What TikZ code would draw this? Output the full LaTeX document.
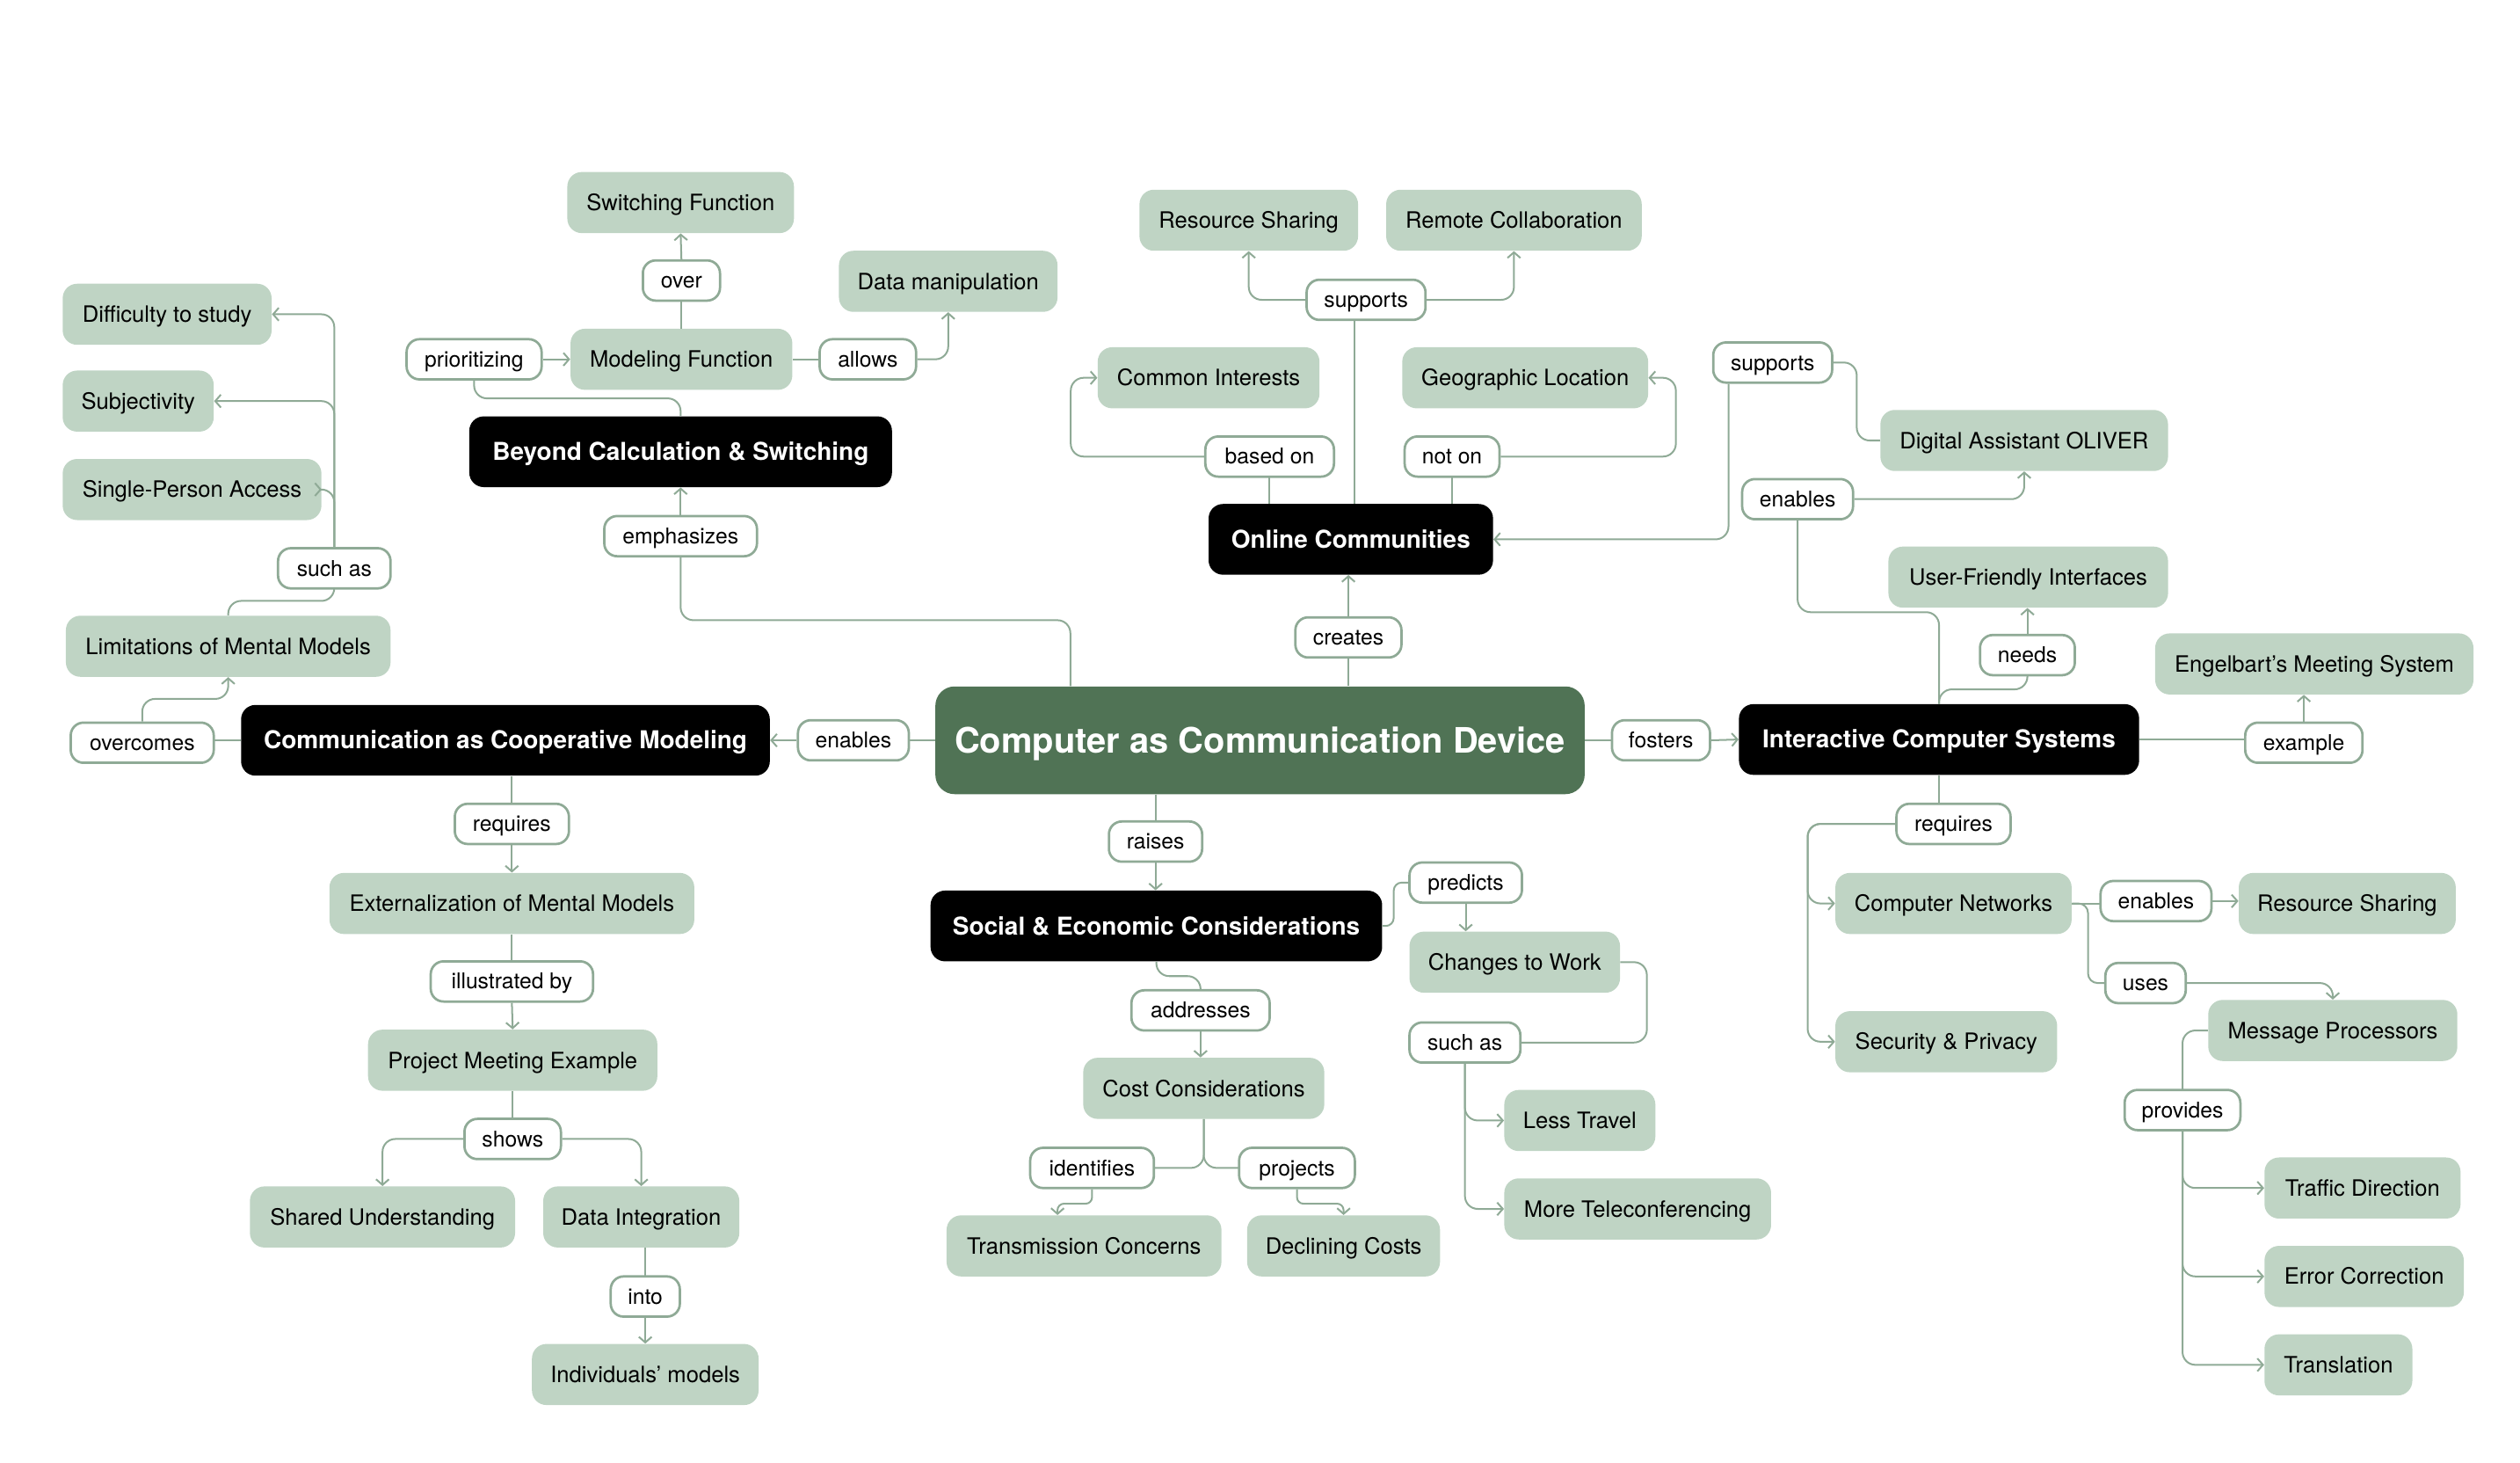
\documentclass[tikz,border=0pt]{standalone}
\usepackage{fontspec}
\setmainfont{TeX Gyre Heros}
\usetikzlibrary{arrows.meta,calc}
\definecolor{lightg}{RGB}{191,212,196}
\definecolor{darkg}{RGB}{80,115,85}
\definecolor{lineg}{RGB}{143,170,150}
\tikzset{
  gn/.style={fill=lightg, rounded corners=9pt, minimum height=38pt, inner sep=0pt, text height=12pt, text depth=2pt, font=\fontsize{14}{16}\selectfont},
  bn/.style={fill=black, text=white, rounded corners=9pt, minimum height=44pt, inner sep=0pt, text height=13pt, text depth=2.2pt, font=\bfseries\fontsize{15.3}{18}\selectfont},
  cnode/.style={fill=darkg, text=white, rounded corners=12pt, minimum height=67pt, inner sep=0pt, text height=19pt, text depth=2.7pt, font=\bfseries\fontsize{21.8}{26}\selectfont},
  lb/.style={draw=lineg, line width=1.5pt, fill=white, rounded corners=8pt, minimum height=25pt, inner sep=0pt, text height=11.5pt, text depth=2pt, font=\fontsize{13.5}{15}\selectfont},
  ln/.style={draw=lineg, line width=1.1pt, rounded corners=8pt},
  ar/.style={ln, -{Straight Barb[length=3.5pt,width=8pt,line width=1.1pt]}},
}
\begin{document}
\begin{tikzpicture}[x=1pt,y=-1pt]
\useasboundingbox (0,0) rectangle (1568,910);

% ---------- nodes ----------
\node[cnode, minimum width=404pt] (cen) at (784,460.5) {Computer as Communication Device};

\node[bn, minimum width=263pt] (b1) at (423.5,281) {Beyond Calculation \& Switching};
\node[bn, minimum width=177pt] (b2) at (840.5,335.5) {Online Communities};
\node[bn, minimum width=329pt] (b3) at (314.5,460.5) {Communication as Cooperative Modeling};
\node[bn, minimum width=249pt] (b4) at (1206.5,460) {Interactive Computer Systems};
\node[bn, minimum width=281pt] (b5) at (719.5,576) {Social \& Economic Considerations};

\node[gn, minimum width=141pt] (sw) at (423.5,126) {Switching Function};
\node[gn, minimum width=138pt] (mf) at (424,223.5) {Modeling Function};
\node[gn, minimum width=136pt] (dm) at (590,175) {Data manipulation};
\node[gn, minimum width=130pt] (dif) at (104,195.5) {Difficulty to study};
\node[gn, minimum width=94pt] (subj) at (86,249.5) {Subjectivity};
\node[gn, minimum width=161pt] (spa) at (119.5,304.5) {Single-Person Access};
\node[gn, minimum width=202pt] (lim) at (142,402) {Limitations of Mental Models};
\node[gn, minimum width=136pt] (rs1) at (777,137) {Resource Sharing};
\node[gn, minimum width=159pt] (rc) at (942,137) {Remote Collaboration};
\node[gn, minimum width=138pt] (ci) at (752,235) {Common Interests};
\node[gn, minimum width=153pt] (gl) at (949,235) {Geographic Location};
\node[gn, minimum width=179pt] (oli) at (1259.5,274) {Digital Assistant OLIVER};
\node[gn, minimum width=174pt] (ufi) at (1262,359) {User-Friendly Interfaces};
\node[gn, minimum width=198pt] (eng) at (1440,413) {Engelbart’s Meeting System};
\node[gn, minimum width=227pt] (ext) at (318.5,562) {Externalization of Mental Models};
\node[gn, minimum width=180pt] (pme) at (319,659.5) {Project Meeting Example};
\node[gn, minimum width=165pt] (su) at (238,757) {Shared Understanding};
\node[gn, minimum width=122pt] (di) at (399,757) {Data Integration};
\node[gn, minimum width=141pt] (im) at (401.5,855) {Individuals’ models};
\node[gn, minimum width=150pt] (cc) at (749,677) {Cost Considerations};
\node[gn, minimum width=171pt] (tc) at (674.5,775) {Transmission Concerns};
\node[gn, minimum width=120pt] (dc) at (836,775) {Declining Costs};
\node[gn, minimum width=131pt] (ctw) at (942.5,598.5) {Changes to Work};
\node[gn, minimum width=94pt] (lt) at (983,697) {Less Travel};
\node[gn, minimum width=166pt] (mt) at (1019,752) {More Teleconferencing};
\node[gn, minimum width=147pt] (cnet) at (1215.5,562) {Computer Networks};
\node[gn, minimum width=135pt] (rs2) at (1460.5,562) {Resource Sharing};
\node[gn, minimum width=155pt] (mp) at (1451.5,641) {Message Processors};
\node[gn, minimum width=138pt] (sp) at (1211,648) {Security \& Privacy};
\node[gn, minimum width=122pt] (td) at (1470,739) {Traffic Direction};
\node[gn, minimum width=124pt] (ec) at (1471,794) {Error Correction};
\node[gn, minimum width=92pt] (tr) at (1455,849) {Translation};

% ---------- connectors (plain) ----------
\draw[ln] ([xshift=-118pt]cen.north) -- ++(0,-41) -| (423.5,346);
\draw[ln] (b1.north) -- ++(0,-11) -| (295,236);
\draw[ln] (mf.north) -- (424,187);
\draw[ln] (mf.east) -- (510,223.5);
\draw[ln] (lim.north) -- ++(0,-9) -| (208,366);
\draw[ln] (b3.west) -- (133,460.5);
\draw[ln] (cen.west) -- (566,460.5);
\draw[ln] (b3.south -| 318.5,0) -- (318.5,500);
\draw[ln] (ext.south) -- (318.5,598);
\draw[ln] (pme.south) -- (319,696);
\draw[ln] (di.south -| 401.5,0) -- (401.5,794);
\draw[ln] (cen.north -| 839,0) -- (839,409);
\draw[ln] (b2.north -| 843,0) -- (843,199);
\draw[ln] (b2.north -| 790,0) -- (790,297);
\draw[ln] (b2.north -| 903.5,0) -- (903.5,297);
\draw[ln] (oli.west) -- ++(-14.5,0) |- (1140,225.5);
\draw[ln] (b4.north) -- ++(0,-57) -| (1118.5,323);
\draw[ln] (b4.north) -- ++(0,-9) -| (1261.5,420);
\draw[ln] (b4.east) -- (1397,460);
\draw[ln] (cen.east) -- (1003,460.5);
\draw[ln] (cen.south -| 719,0) -- (719,511);
\draw[ln, rounded corners=5pt] (b5.east) -- ++(7,0) |- (877,549);
\draw[ln] (ctw.east) -- ++(16.5,0) |- (946,648.5);
\draw[ln] (b5.south) -- ++(0,9) -| (747,616);
\draw[ln] (cc.south) |- (718,726.5);
\draw[ln] (cc.south) |- (771,726.5);
\draw[ln] (b4.south) -- (1206.5,500);
\draw[ln] (cnet.east) -- (1307,562);
\draw[ln, rounded corners=6pt] (cnet.east) -- ++(10,0) |- (1310,611.5);
\draw[ln] (mp.west) -| (1358,678);

% ---------- labels ----------
\node[lb, minimum width=48pt] (lover) at (424,174.5) {over};
\node[lb, minimum width=84pt] (lprio) at (295,223.5) {prioritizing};
\node[lb, minimum width=60pt] (lallows) at (540,223.5) {allows};
\node[lb, minimum width=95pt] (lemph) at (423.5,333.5) {emphasizes};
\node[lb, minimum width=70pt] (lsuch1) at (208,353.5) {such as};
\node[lb, minimum width=89pt] (lovc) at (88.5,462) {overcomes};
\node[lb, minimum width=69pt] (len1) at (531,460.5) {enables};
\node[lb, minimum width=71pt] (lreq1) at (318.5,512.5) {requires};
\node[lb, minimum width=101pt] (lill) at (318.5,610.5) {illustrated by};
\node[lb, minimum width=60pt] (lshows) at (319,708.5) {shows};
\node[lb, minimum width=43pt] (linto) at (401.5,806.5) {into};
\node[lb, minimum width=74pt] (lsup1) at (850,186.5) {supports};
\node[lb, minimum width=80pt] (lbased) at (790,284) {based on};
\node[lb, minimum width=59pt] (lnoton) at (903.5,284) {not on};
\node[lb, minimum width=74pt] (lsup2) at (1103,225.5) {supports};
\node[lb, minimum width=69pt] (len2) at (1118.5,310.5) {enables};
\node[lb, minimum width=66pt] (lcreates) at (839,396.5) {creates};
\node[lb, minimum width=59pt] (lneeds) at (1261.5,407.5) {needs};
\node[lb, minimum width=61pt] (lfost) at (1033.5,460.5) {fosters};
\node[lb, minimum width=73pt] (lex) at (1433.5,462) {example};
\node[lb, minimum width=58pt] (lraises) at (719,523.5) {raises};
\node[lb, minimum width=70pt] (lpred) at (912,549) {predicts};
\node[lb, minimum width=86pt] (laddr) at (747,628.5) {addresses};
\node[lb, minimum width=69pt] (lsuch2) at (911.5,648.5) {such as};
\node[lb, minimum width=77pt] (lident) at (679.5,726.5) {identifies};
\node[lb, minimum width=72pt] (lproj) at (807,726.5) {projects};
\node[lb, minimum width=71pt] (lreq2) at (1215.5,512.5) {requires};
\node[lb, minimum width=69pt] (len3) at (1341.5,560.5) {enables};
\node[lb, minimum width=50pt] (luses) at (1335,611.5) {uses};
\node[lb, minimum width=72pt] (lprov) at (1358,690.5) {provides};

% ---------- arrows ----------
\draw[ar] (lemph.north) -- (b1.south);
\draw[ar] (lprio.east) -- (mf.west);
\draw[ar] (lover.north) -- (sw.south);
\draw[ar] (lallows.east) -| (dm.south);
\draw[ar] (lsuch1.north) |- (dif.east);
\draw[ar] (lsuch1.north) |- (subj.east);
\draw[ar] (lsuch1.north) |- (spa.east);
\draw[ar] (lovc.north) -- ++(0,-14) -| (lim.south);
\draw[ar] (len1.west) -- (b3.east);
\draw[ar] (lreq1.south) -- (ext.north);
\draw[ar] (lill.south) -- (pme.north);
\draw[ar] (lshows.west) -| (su.north);
\draw[ar] (lshows.east) -| (di.north);
\draw[ar] (linto.south) -- (im.north);
\draw[ar] (lcreates.north) -- (lcreates.north |- b2.south);
\draw[ar] (lsup1.west) -| (rs1.south);
\draw[ar] (lsup1.east) -| (rc.south);
\draw[ar] (lbased.west) -- ++(-83,0) |- (ci.west);
\draw[ar] (lnoton.east) -- ++(109,0) |- (gl.east);
\draw[ar] ([xshift=-27.5pt]lsup2.south) |- (b2.east);
\draw[ar] (len2.east) -| (oli.south);
\draw[ar] (lneeds.north) -- (lneeds.north |- ufi.south);
\draw[ar] (lex.north) -- (lex.north |- eng.south);
\draw[ar] (lfost.east) -- (b4.west);
\draw[ar] (lraises.south) -- (lraises.south |- b5.north);
\draw[ar] (lpred.south) -- (lpred.south |- ctw.north);
\draw[ar] (lsuch2.south) |- (lt.west);
\draw[ar] (lsuch2.south) |- (mt.west);
\draw[ar] (laddr.south) -- (laddr.south |- cc.north);
\draw[ar, rounded corners=4pt] (lident.south) -- ++(0,9) -| ([xshift=-16.5pt]tc.north);
\draw[ar, rounded corners=4pt] (lproj.south) -- ++(0,9) -| (dc.north);
\draw[ar] (lreq2.west) -- ++(-54.5,0) |- (cnet.west);
\draw[ar] (lreq2.west) -- ++(-54.5,0) |- (sp.west);
\draw[ar] (len3.east) -- (len3.east -| rs2.west);
\draw[ar] (luses.east) -| (mp.north);
\draw[ar] (lprov.south) |- (td.west);
\draw[ar] (lprov.south) |- (ec.west);
\draw[ar] (lprov.south) |- (tr.west);
\end{tikzpicture}
\end{document}
